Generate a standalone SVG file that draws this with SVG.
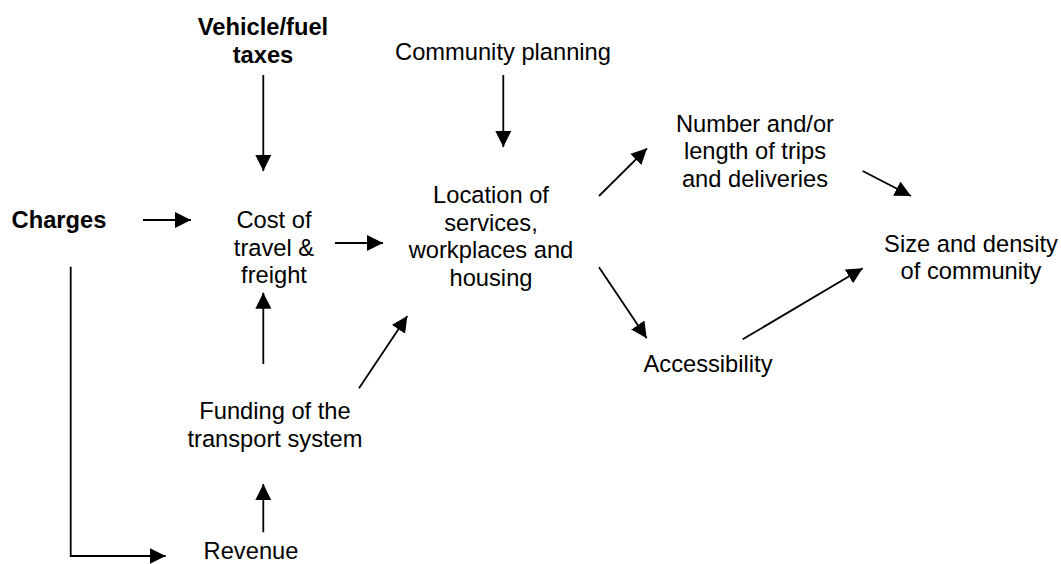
<svg xmlns="http://www.w3.org/2000/svg" width="1061" height="564" viewBox="0 0 1061 564">
<style>
text{font-family:"Liberation Sans",Arial,sans-serif;font-size:23.7px;fill:#000;text-anchor:middle}
.b{font-weight:bold}
.c line,.c path{stroke:#000;stroke-width:1.8;fill:none}
</style>
<defs>
<marker id="a" markerUnits="userSpaceOnUse" markerWidth="16" markerHeight="16" refX="16" refY="8" orient="auto" viewBox="0 0 16 16">
<path d="M0,0 L16,8 L0,16 z" fill="#000"/>
</marker>
</defs>
<rect width="1061" height="564" fill="#fff"/>
<g id="vehicle"><text class="b" x="263" y="35">Vehicle/fuel</text><text class="b" x="263" y="63">taxes</text></g>
<g id="charges"><text class="b" x="59" y="228" >Charges</text></g>
<g id="cost"><text x="274" y="228">Cost of</text><text x="274" y="255.5">travel &amp;</text><text x="274" y="283">freight</text></g>
<g id="community"><text x="503" y="60">Community planning</text></g>
<g id="location"><text x="491" y="203">Location of</text><text x="491" y="230.5">services,</text><text x="491" y="258">workplaces and</text><text x="491" y="285.5">housing</text></g>
<g id="number"><text x="755" y="131.5">Number and/or</text><text x="755" y="159">length of trips</text><text x="755" y="186.5">and deliveries</text></g>
<g id="size"><text x="971" y="251.5">Size and density</text><text x="971" y="279">of community</text></g>
<g id="accessibility"><text x="708" y="371.5">Accessibility</text></g>
<g id="funding"><text x="275" y="419">Funding of the</text><text x="275" y="446.5">transport system</text></g>
<g id="revenue"><text x="251" y="559">Revenue</text></g>
<g class="c" id="connectors">
<line x1="263.3" y1="75" x2="263.3" y2="171" marker-end="url(#a)"/>
<line x1="143" y1="220" x2="191" y2="220" marker-end="url(#a)"/>
<line x1="335" y1="243" x2="383" y2="243" marker-end="url(#a)"/>
<line x1="503.3" y1="75" x2="503.3" y2="147" marker-end="url(#a)"/>
<line x1="599" y1="196" x2="647" y2="148.3" marker-end="url(#a)"/>
<line x1="862.7" y1="171" x2="911" y2="196" marker-end="url(#a)"/>
<line x1="599" y1="267.3" x2="646.7" y2="338.3" marker-end="url(#a)"/>
<line x1="742.7" y1="339.3" x2="862.7" y2="268.3" marker-end="url(#a)"/>
<line x1="263.3" y1="364" x2="263.3" y2="292.7" marker-end="url(#a)"/>
<line x1="359" y1="388.3" x2="407.3" y2="316" marker-end="url(#a)"/>
<line x1="263.3" y1="532.3" x2="263.3" y2="484" marker-end="url(#a)"/>
<path d="M70.7,266.7 V556 H165.7" marker-end="url(#a)"/>
</g>
</svg>
